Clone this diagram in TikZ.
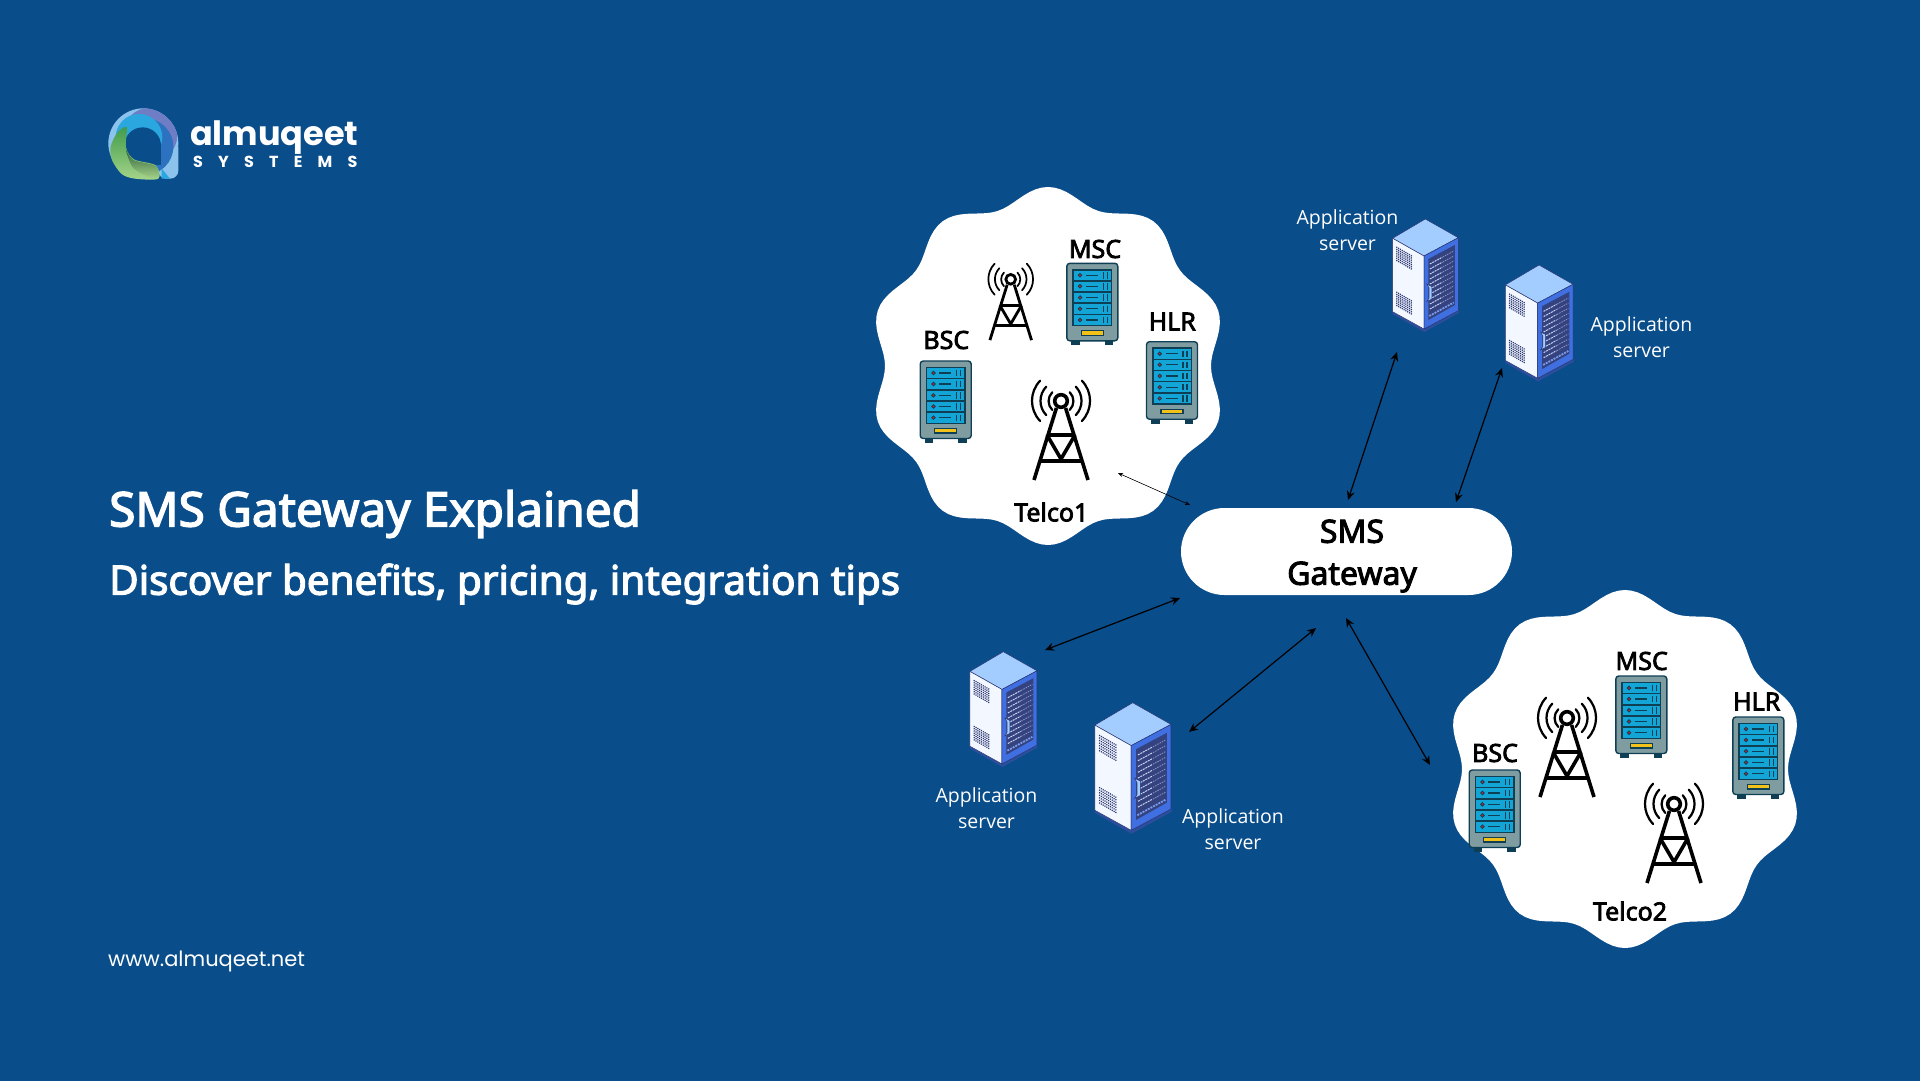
\documentclass[tikz,border=0pt]{standalone}
\usepackage{fontspec}
\usepackage{tikz}
\usetikzlibrary{arrows.meta}
\setmainfont{Noto Sans}[BoldFont={Noto Sans},BoldFeatures={FakeBold=3}]
\newfontfamily\logofont{Poppins}
\newfontfamily\logospaced[LetterSpace=95]{Poppins}
\newfontfamily\appfont{Open Sans}
\definecolor{bgblue}{HTML}{094D8B}
\definecolor{rackgrey}{HTML}{7F9CA1}
\definecolor{rackdark}{HTML}{0F3F55}
\definecolor{rackslot}{HTML}{12A5D6}
\definecolor{rackred}{HTML}{D0202A}
\definecolor{rackyellow}{HTML}{F2C21A}
\definecolor{srvtop}{HTML}{A3CCFF}
\definecolor{srvside}{HTML}{F3F7FF}
\definecolor{srvblue}{HTML}{3F6FE0}
\definecolor{srvdark}{HTML}{2A3570}
\definecolor{srvin}{HTML}{34427F}
\definecolor{srvrow}{HTML}{C6D2F0}
\definecolor{logopale}{HTML}{8CC3EC}
\definecolor{logopurple}{HTML}{6F7EC4}
\definecolor{logoblue}{HTML}{2C72C0}
\definecolor{logosky}{HTML}{2BA7E0}
\definecolor{logogreen}{HTML}{3E9A4A}
\definecolor{logolime}{HTML}{A6D58A}
\definecolor{logomoss}{HTML}{2E5F3A}
\tikzset{
  telcolabel/.style={inner sep=0pt,font=\fontsize{25}{29}\selectfont\bfseries,text=black},
  applabel/.style={inner sep=0pt,align=center,text=white,font=\appfont\fontsize{19.5}{26}\selectfont},
  link/.style={line width=1.2pt,{Stealth[length=9pt,width=8pt]}-{Stealth[length=9pt,width=8pt]}},
  thinlink/.style={line width=.6pt,{Stealth[length=5pt,width=4pt]}-{Stealth[length=5pt,width=4pt]}},
  blob/.pic={
    \fill[white]
      plot[variable=\a,domain=0:358,samples=180]
      ({(171+8*cos(10*(\a-90)))*cos(\a)},{(171+8*cos(10*(\a-90)))*sin(\a)})
      --
      cycle;
  },
  slot/.pic={
    \fill[rackslot]
      (-18.5,-4.8)
      rectangle
      (18.5,4.8);
    \filldraw[rackred,draw=rackdark,line width=.8pt]
      (-12.3,0)
      circle
      [radius=1.8];
    \draw[rackdark,line width=1.2pt]
      (-6.3,0)
      --
      (5.7,0);
    \draw[rackdark,line width=1.2pt]
      (11,-3.2)
      --
      (11,3.2);
    \draw[rackdark,line width=1.2pt]
      (15,-3.2)
      --
      (15,3.2);
  },
  rack/.pic={
    \fill[rackdark]
      (-21,76)
      rectangle
      (-12.5,82);
    \fill[rackdark]
      (12.5,76)
      rectangle
      (21,82);
    \filldraw[rackgrey,draw=rackdark,line width=1.4pt,rounded corners=3pt]
      (-25.5,0)
      rectangle
      (25.5,77.5);
    \fill[rackdark]
      (-20,5.7)
      rectangle
      (20,63);
    \pic at (0,12) {slot};
    \pic at (0,23) {slot};
    \pic at (0,34.3) {slot};
    \pic at (0,45.5) {slot};
    \pic at (0,56.7) {slot};
    \filldraw[rackyellow,draw=rackdark,line width=1.2pt]
      (-11,67.5)
      rectangle
      (11,72);
  },
  tower/.pic={
    \draw[black,line width=#1pt]
      (-4.6,7)
      --
      (-27,79);
    \draw[black,line width=#1pt]
      (4.6,7)
      --
      (27,79);
    \draw[black,line width=#1pt]
      (-14,34)
      --
      (14,34);
    \draw[black,line width=#1pt]
      (-21.5,60)
      --
      (21.5,60);
    \draw[black,line width=#1pt]
      (-14,34)
      --
      (0,58)
      --
      (14,34);
    \draw[black,line width=#1pt]
      (0,0)
      circle
      [radius=6.3];
    \draw[black,line width=.62*#1pt,line cap=round]
      (-12.5*0.7,-12.5*0.7)
      arc
      [start angle=225,end angle=135,radius=12.5];
    \draw[black,line width=.62*#1pt,line cap=round]
      (-20.5*0.72,-20.5*0.7)
      arc
      [start angle=224,end angle=136,radius=20.5];
    \draw[black,line width=.62*#1pt,line cap=round]
      (-29*0.72,-29*0.7)
      arc
      [start angle=224,end angle=136,radius=29];
    \draw[black,line width=.62*#1pt,line cap=round]
      (12.5*0.7,-12.5*0.7)
      arc
      [start angle=-45,end angle=45,radius=12.5];
    \draw[black,line width=.62*#1pt,line cap=round]
      (20.5*0.72,-20.5*0.7)
      arc
      [start angle=-44,end angle=44,radius=20.5];
    \draw[black,line width=.62*#1pt,line cap=round]
      (29*0.72,-29*0.7)
      arc
      [start angle=-44,end angle=44,radius=29];
  },
  server/.pic={
    % feet
    \fill[srvblue!70!black]
      (-32.7,92)
      --
      (-1,110)
      --
      (33.5,91)
      --
      (33.5,94)
      --
      (-1,113)
      --
      (-32.7,95)
      --
      cycle;
    % faces
    \filldraw[srvtop,draw=srvdark,line width=.5pt]
      (0,0)
      --
      (-32.7,19.3)
      --
      (-1.3,37)
      --
      (33,18.7)
      --
      cycle;
    \filldraw[srvside,draw=srvdark,line width=.5pt]
      (-32.7,19.3)
      --
      (-1.3,37)
      --
      (-1.3,110)
      --
      (-32.7,92.7)
      --
      cycle;
    \filldraw[srvblue,draw=srvdark,line width=.5pt]
      (-1.3,37)
      --
      (33,18.7)
      --
      (33,91.7)
      --
      (-1.3,110)
      --
      cycle;
    \fill[srvin]
      (3,40)
      --
      (29.5,26)
      --
      (29.5,86)
      --
      (3,101)
      --
      cycle;
    % vents
    \draw[srvdark,line width=1.2pt,dash pattern=on 1.1pt off 1pt]
      (-29,28) -- (-13.5,37)
      (-29,30.2) -- (-13.5,39.2)
      (-29,32.4) -- (-13.5,41.4)
      (-29,34.6) -- (-13.5,43.6)
      (-29,36.8) -- (-13.5,45.8)
      (-29,39) -- (-13.5,48)
      (-29,41.2) -- (-13.5,50.2)
      (-29,73) -- (-13.5,82)
      (-29,75.2) -- (-13.5,84.2)
      (-29,77.4) -- (-13.5,86.4)
      (-29,79.6) -- (-13.5,88.6)
      (-29,81.8) -- (-13.5,90.8)
      (-29,84) -- (-13.5,93)
      (-29,86.2) -- (-13.5,95.2);
    % rows
    \draw[srvrow,line width=1pt,dash pattern=on 2pt off .8pt]
      (4.5,45) -- (17,38.2)
      (4.5,50) -- (17,43.2)
      (4.5,55) -- (17,48.2)
      (4.5,60) -- (17,53.2)
      (4.5,65) -- (17,58.2)
      (4.5,70) -- (17,63.2)
      (4.5,75) -- (17,68.2)
      (4.5,80) -- (17,73.2)
      (4.5,85) -- (17,78.2)
      (4.5,90) -- (17,83.2);
    \draw[srvrow!60!srvin,line width=.8pt,dash pattern=on 1.5pt off 1pt]
      (17.5,38) -- (28.5,32)
      (17.5,43) -- (28.5,37)
      (17.5,48) -- (28.5,42)
      (17.5,53) -- (28.5,47)
      (17.5,58) -- (28.5,52)
      (17.5,63) -- (28.5,57)
      (17.5,68) -- (28.5,62)
      (17.5,73) -- (28.5,67)
      (17.5,78) -- (28.5,72)
      (17.5,83) -- (28.5,77);
    \draw[srvblue!70!white,line width=1.8pt,dash pattern=on 2pt off 1pt]
      (4,97)
      --
      (28.5,83.5);
    % handle
    \filldraw[srvtop,draw=srvdark,line width=.5pt]
      (1.5,65)
      --
      (6.5,67.5)
      --
      (6.5,80)
      --
      (1.5,82.5)
      --
      (3.8,79)
      --
      (3.8,69)
      --
      cycle;
  }
}
\begin{document}
\begin{tikzpicture}[x=1pt,y=-1pt]
  \useasboundingbox (0,0) rectangle (1920,1080);
  \fill[bgblue] (-3,-3) rectangle (1923,1083);

  \coordinate (t1a) at (1118,473);
  \coordinate (t1b) at (1190,505);
  \coordinate (s1a) at (1397,352);
  \coordinate (s1b) at (1348,500);
  \coordinate (s2a) at (1502,368);
  \coordinate (s2b) at (1456,502);
  \coordinate (s3a) at (1045,650);
  \coordinate (s3b) at (1180,598);
  \coordinate (s4a) at (1189,732);
  \coordinate (s4b) at (1316,628);
  \coordinate (t2a) at (1346,618);
  \coordinate (t2b) at (1430,765);

  % logo
  \begin{scope}[shift={(90,90)},scale=1/3]
    \fill[logopale]
      (160,160)
      circle
      [radius=105];
    \fill[logopale,rounded corners=8pt]
      (205,150)
      rectangle
      (265,266);
    \begin{scope}
      \clip (160,160) circle [radius=105];
      \fill[logopurple]
        (180,135)
        circle
        [radius=82];
      \fill[logoblue]
        (165,170)
        circle
        [radius=85];
      \fill[logosky]
        (147,142)
        circle
        [radius=70];
    \end{scope}
    \fill[logosky]
      (215,235)
      --
      (240,266)
      --
      (215,266)
      --
      cycle;
    \fill[bgblue]
      (158,167)
      circle
      [radius=55];
    \fill[bgblue]
      (160,167)
      rectangle
      (213,226);
    \shade[top color=logogreen,bottom color=logolime]
      plot[smooth cycle,tension=.5] coordinates
      {(110,112) (82,128) (62,170) (66,210) (95,252) (135,266) (205,266) (197,226) (132,208) (108,172)};
    \shade[top color=logomoss,bottom color=logolime]
      plot[smooth cycle,tension=.5] coordinates
      {(108,180) (130,210) (197,228) (205,264) (170,258) (128,232)};
  \end{scope}
  \node (logoname) [anchor=base west,inner sep=0pt,text=white,font=\logofont\bfseries\fontsize{33.5}{40}\selectfont] at (190,145) {almuqeet};
  \node (logosub) [anchor=base west,inner sep=0pt,text=white,font=\logospaced\bfseries\fontsize{16}{18}\selectfont] at (193,167) {SYSTEMS};

  % left side
  \node (title) [anchor=west,inner sep=0pt,text=white,font=\bfseries\fontsize{47.7}{56}\selectfont] at (109,514) {SMS Gateway Explained};
  \node (subtitle) [anchor=west,inner sep=0pt,text=white,font=\bfseries\fontsize{40.4}{48}\selectfont] at (109,584) {Discover benefits, pricing, integration tips};
  \node (website) [anchor=west,inner sep=0pt,text=white,font=\logofont\fontsize{21}{25}\selectfont] at (108,961.5) {www.almuqeet.net};

  % telco clouds
  \pic at (1048,366) {blob};
  \pic at (1625,769) {blob};

  \pic at (945.7,361) {rack};
  \pic at (1092.3,263.3) {rack};
  \pic at (1172,341.7) {rack};
  \pic at (1494.7,770) {rack};
  \pic at (1641.3,676) {rack};
  \pic at (1758.3,717) {rack};

  \pic at (1061,401) {tower=3.6};
  \pic[scale=.77] at (1010.7,279.3) {tower=2.8};
  \pic at (1567,718) {tower=3.6};
  \pic at (1674,804) {tower=3.6};

  \node (bsc1) [telcolabel] at (946.3,340) {BSC};
  \node (msc1) [telcolabel] at (1095,249) {MSC};
  \node (hlr1) [telcolabel] at (1172.3,321.5) {HLR};
  \node (telco1) [telcolabel] at (1051.3,512) {Telco1};
  \node (bsc2) [telcolabel] at (1495,753) {BSC};
  \node (msc2) [telcolabel] at (1641.7,661) {MSC};
  \node (hlr2) [telcolabel] at (1756.7,701.5) {HLR};
  \node (telco2) [telcolabel] at (1630,911) {Telco2};

  % gateway
  \fill[white,rounded corners=43.5pt]
    (1181,508)
    rectangle
    (1512,595);
  \node (gateway) [inner sep=0pt,align=center,text=black,font=\bfseries\fontsize{32}{42}\selectfont] at (1352,556) {SMS\\Gateway};

  % application servers
  \pic at (1425.3,219) {server};
  \pic[scale=1.03] at (1539,265) {server};
  \pic[scale=1.02] at (1003.3,651.7) {server};
  \pic[scale=1.16] at (1132.7,702.7) {server};

  \node (app1) [applabel] at (1347.5,230.5) {Application\\server};
  \node (app2) [applabel] at (1641.5,337) {Application\\server};
  \node (app3) [applabel] at (986.5,808.5) {Application\\server};
  \node (app4) [applabel] at (1233,829) {Application\\server};

  % links
  \draw[thinlink]
    (t1a)
    --
    (t1b);
  \draw[link]
    (s1a)
    --
    (s1b);
  \draw[link]
    (s2a)
    --
    (s2b);
  \draw[link]
    (s3a)
    --
    (s3b);
  \draw[link]
    (s4a)
    --
    (s4b);
  \draw[link]
    (t2a)
    --
    (t2b);
\end{tikzpicture}
\end{document}
